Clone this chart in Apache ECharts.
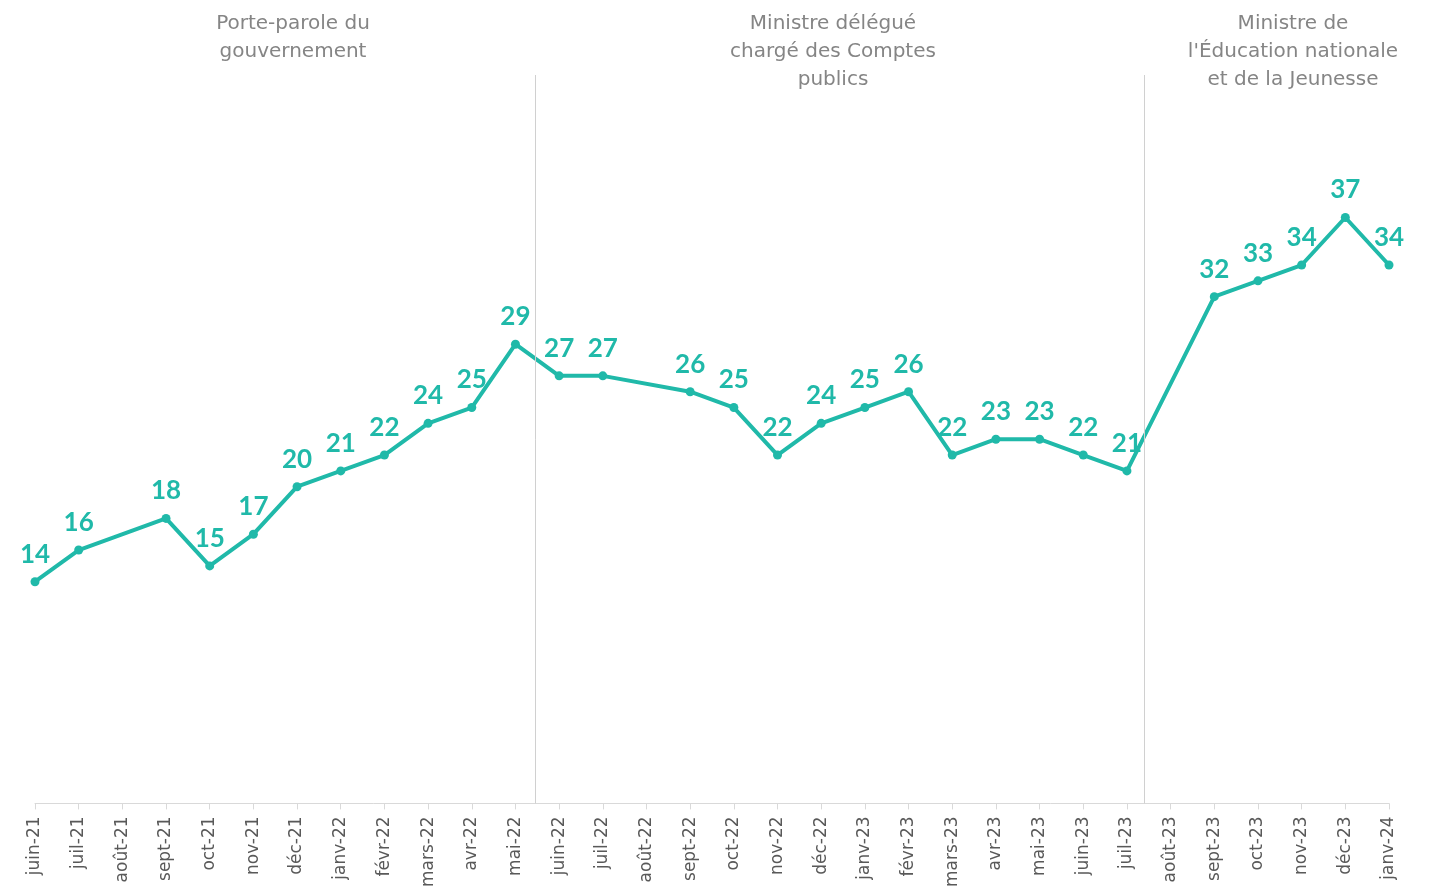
<!DOCTYPE html>
<html>
<head>
<meta charset="utf-8">
<script src="https://cdn.jsdelivr.net/npm/echarts@6/dist/echarts.min.js"></script>
<style>
  html, body { margin: 0; padding: 0; background: #fff; }
  #chart { width: 1437px; height: 890px; }
</style>
</head>
<body>
<div id="chart"></div>
<script>
  // mois
  const months = [
    'juin-21', 'juil-21', 'août-21', 'sept-21', 'oct-21', 'nov-21', 'déc-21',
    'janv-22', 'févr-22', 'mars-22', 'avr-22', 'mai-22', 'juin-22', 'juil-22',
    'août-22', 'sept-22', 'oct-22', 'nov-22', 'déc-22', 'janv-23', 'févr-23',
    'mars-23', 'avr-23', 'mai-23', 'juin-23', 'juil-23', 'août-23', 'sept-23',
    'oct-23', 'nov-23', 'déc-23', 'janv-24'
  ];

  // valeurs (pas de mesure en août)
  const scores = [
    14, 16, null, 18, 15, 17, 20,
    21, 22, 24, 25, 29, 27, 27,
    null, 26, 25, 22, 24, 25, 26,
    22, 23, 23, 22, 21, null, 32,
    33, 34, 37, 34
  ];

  // fonctions occupées
  const roles = [
    'Porte-parole du\ngouvernement',
    'Ministre délégué\nchargé des Comptes\npublics',
    "Ministre de\nl'Éducation nationale\net de la Jeunesse"
  ];
  const roleCenters = [288, 828, 1288];
  // changement de poste entre deux mois
  const roleBreaks = [11.45, 25.4];

  const teal = '#20b9a9';

  const chart = echarts.init(document.getElementById('chart'));

  chart.setOption({
    animation: false,
    title: roles.map((r, i) => ({
      text: r,
      left: roleCenters[i],
      top: 5,
      textAlign: 'center',
      textStyle: {
        color: '#858585',
        fontSize: 20,
        fontWeight: 'normal',
        fontFamily: 'DejaVu Sans',
        lineHeight: 28
      }
    })),
    grid: {
      left: 35,
      right: 48,
      top: 75,
      bottom: 85
    },
    xAxis: [{
      type: 'category',
      data: months,
      boundaryGap: false,
      axisLine: { lineStyle: { color: '#d9d9d9', width: 1 } },
      axisTick: { show: true, length: 6, lineStyle: { color: '#d9d9d9' } },
      axisLabel: {
        rotate: 90,
        interval: 0,
        color: '#595959',
        fontSize: 17,
        fontFamily: 'DejaVu Sans',
        margin: 13
      }
    }, {
      // axe caché pour placer les séparations entre deux mois
      type: 'value',
      min: 0,
      max: months.length - 1,
      show: false
    }],
    yAxis: {
      type: 'value',
      min: 0,
      max: 46,
      show: false
    },
    series: [{
      type: 'line',
      data: scores,
      connectNulls: true,
      symbol: 'circle',
      symbolSize: 9,
      lineStyle: { color: teal, width: 4 },
      itemStyle: { color: teal },
      z: 3,
      label: {
        show: true,
        position: 'top',
        distance: 10,
        color: teal,
        fontSize: 26,
        fontWeight: 'bold',
        fontFamily: 'Lato'
      }
    }, {
      type: 'line',
      xAxisIndex: 1,
      data: [],
      z: 1,
      markLine: {
        silent: true,
        symbol: 'none',
        label: { show: false },
        lineStyle: { color: '#d0d0d0', width: 1, type: 'solid' },
        data: roleBreaks.map(v => ({ xAxis: v }))
      }
    }]
  });
</script>
</body>
</html>
